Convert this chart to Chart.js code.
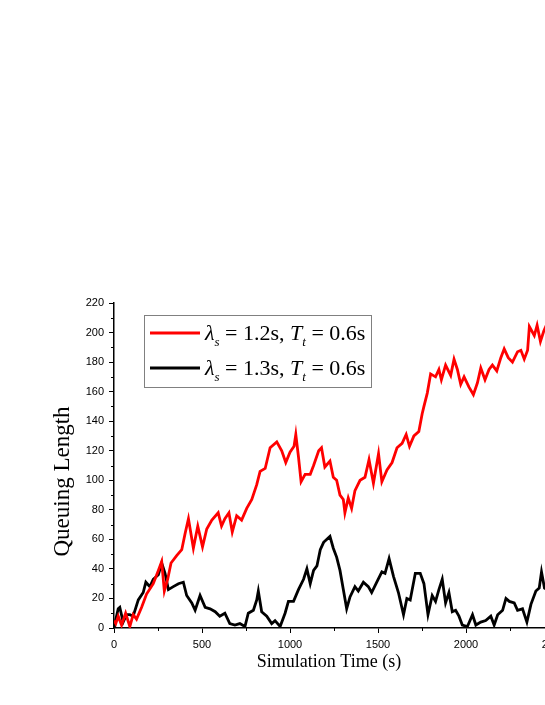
<!DOCTYPE html>
<html>
<head>
<meta charset="utf-8">
<script src="https://cdn.jsdelivr.net/npm/chart.js@4.4.1/dist/chart.umd.min.js"></script>
<style>
  html, body { margin: 0; padding: 0; background: #fff; overflow: hidden; width: 545px; height: 705px; }
  #wrap { position: absolute; left: 0; top: 0; width: 600px; height: 705px; }
</style>
</head>
<body>
<div id="wrap"><canvas id="c" width="600" height="705"></canvas></div>
<script>
// ---- data ----
const timeRed = [0,10,24,43,66,90,109,128,157,185,223,252,271,286,305,324,356,385,404,423,451,476,503,527,556,592,611,630,653,672,697,725,754,783,811,830,859,887,925,953,976,1000,1023,1033,1048,1063,1086,1115,1134,1163,1179,1198,1227,1246,1265,1284,1303,1312,1331,1350,1369,1398,1426,1449,1474,1503,1522,1551,1580,1608,1637,1660,1679,1704,1732,1751,1761,1780,1799,1827,1846,1860,1884,1913,1932,1951,1970,1989,2017,2042,2065,2084,2108,2131,2150,2175,2198,2217,2240,2264,2293,2312,2331,2350,2360,2388,2404,2423,2442,2460];
const queueRed = [5,3,8,2,10,1,9,6,14,23,30,39,45,25,33,44,49,53,64,74,54,69,55,67,73,78,69,74,78,65,76,73,81,87,97,106,108,122,126,120,112,119,123,131,116,99,104,104,110,120,122,109,113,102,100,90,87,78,88,81,93,100,102,114,98,118,99,107,112,122,125,131,123,130,133,145,150,159,172,170,175,168,178,171,182,175,165,170,163,158,166,176,168,175,178,174,183,189,183,180,187,188,182,188,204,198,205,194,201,206];
const timeBlack = [0,3,24,33,52,71,90,109,138,166,181,204,223,252,271,290,309,337,366,394,413,442,461,489,518,546,575,601,630,658,687,715,744,763,792,811,820,839,868,896,915,944,972,991,1020,1048,1077,1096,1115,1134,1153,1172,1191,1227,1246,1265,1284,1303,1322,1341,1369,1388,1417,1445,1464,1493,1522,1540,1563,1588,1616,1645,1664,1683,1712,1740,1761,1784,1808,1827,1846,1865,1884,1903,1922,1941,1960,1979,2008,2037,2056,2084,2112,2141,2160,2180,2208,2227,2246,2274,2293,2321,2346,2369,2397,2416,2429,2446,2460];
const queueBlack = [0,2,13,14,4,9,9,8,19,24,31,28,33,36,44,37,26,28,30,31,22,17,12,22,14,13,11,8,10,3,2,3,1,10,12,19,25,11,8,3,5,1,10,18,18,26,33,40,30,39,42,53,58,62,54,48,39,26,13,21,28,25,31,28,24,31,38,37,47,35,24,9,20,19,37,37,30,9,22,18,26,33,17,24,11,12,8,2,1,9,2,4,5,8,2,9,12,20,18,17,12,13,4,16,25,27,38,27,26];
const seriesNames = ["λs = 1.2s, Tt = 0.6s", "λs = 1.3s, Tt = 0.6s"];
const legendParts = [
  [["λ","i"],["s","sub"],[" = 1.2s, ","n"],["T","i"],["t","sub"],[" = 0.6s","n"]],
  [["λ","i"],["s","sub"],[" = 1.3s, ","n"],["T","i"],["t","sub"],[" = 0.6s","n"]]
];
const xTitle = "Simulation Time (s)";
const yTitle = "Queuing Length";
const xMax = 2500, yMax = 220;
const xMajor = 500, xMinor = 250, yMajor = 20, yMinor = 10;

const toPts = (xs, ys) => xs.map((x, i) => ({x: x, y: ys[i]}));
const SERIF = '"Liberation Serif", "Times New Roman", serif';

const minorTicks = {
  id: 'minorTicks',
  afterDraw(chart) {
    const ctx = chart.ctx, a = chart.chartArea;
    const xs = chart.scales.x, ys = chart.scales.y;
    ctx.save();
    ctx.strokeStyle = '#000';
    ctx.lineWidth = 1;
    for (let v = yMinor; v < yMax; v += yMajor) {
      const p = Math.round(ys.getPixelForValue(v)) + 0.5;
      ctx.beginPath(); ctx.moveTo(a.left - 3, p); ctx.lineTo(a.left, p); ctx.stroke();
    }
    for (let v = xMinor; v < xMax; v += xMajor) {
      const p = Math.round(xs.getPixelForValue(v)) + 0.5;
      ctx.beginPath(); ctx.moveTo(p, a.bottom); ctx.lineTo(p, a.bottom + 3); ctx.stroke();
    }
    // axis titles
    ctx.fillStyle = '#000';
    ctx.font = '18px ' + SERIF;
    ctx.textAlign = 'center';
    ctx.textBaseline = 'alphabetic';
    ctx.fillText(xTitle, (a.left + a.right) / 2 - 5, a.bottom + 39);
    ctx.save();
    ctx.translate(a.left - 51, (a.top + a.bottom) / 2 + 16);
    ctx.rotate(-Math.PI / 2);
    ctx.font = '23px ' + SERIF;
    ctx.textBaseline = 'middle';
    ctx.fillText(yTitle, 0, 0);
    ctx.restore();
    ctx.restore();
  }
};

const customLegend = {
  id: 'customLegend',
  afterDraw(chart) {
    const ctx = chart.ctx, a = chart.chartArea;
    const bx = a.left + 30, by = a.top + 12, bw = 227, bh = 72;
    ctx.save();
    ctx.fillStyle = '#fff';
    ctx.fillRect(bx, by, bw, bh);
    ctx.strokeStyle = '#808080';
    ctx.lineWidth = 1;
    ctx.strokeRect(bx + 0.5, by + 0.5, bw, bh);
    const fs = 22;
    chart.data.datasets.forEach((ds, i) => {
      const ly = by + 18 + i * 35;
      ctx.strokeStyle = ds.borderColor;
      ctx.lineWidth = 2.8;
      ctx.beginPath(); ctx.moveTo(bx + 6, ly); ctx.lineTo(bx + 56, ly); ctx.stroke();
      let x = bx + 61;
      const base = ly + 7;
      ctx.fillStyle = '#000';
      ctx.textBaseline = 'alphabetic';
      ctx.textAlign = 'left';
      legendParts[i].forEach(([t, kind]) => {
        if (kind === 'i') ctx.font = 'italic ' + fs + 'px ' + SERIF;
        else if (kind === 'sub') ctx.font = 'italic ' + Math.round(fs * 0.6) + 'px ' + SERIF;
        else ctx.font = fs + 'px ' + SERIF;
        const yy = kind === 'sub' ? base + 6 : base;
        ctx.fillText(t, x, yy);
        x += ctx.measureText(t).width;
      });
    });
    ctx.restore();
  }
};

new Chart(document.getElementById('c'), {
  type: 'line',
  data: {
    datasets: [
      { label: seriesNames[0], data: toPts(timeRed, queueRed), borderColor: '#ff0000', backgroundColor: '#ff0000', borderWidth: 2.8, pointRadius: 0, tension: 0 },
      { label: seriesNames[1], data: toPts(timeBlack, queueBlack), borderColor: '#000000', backgroundColor: '#000000', borderWidth: 2.8, pointRadius: 0, tension: 0 }
    ]
  },
  options: {
    responsive: false,
    animation: false,
    layout: { padding: { left: 0, top: 303, right: 46, bottom: 0 } },
    plugins: { legend: { display: false }, tooltip: { enabled: false } },
    scales: {
      x: {
        type: 'linear', min: 0, max: xMax,
        afterFit(s) { s.height = 77; },
        border: { display: true, color: '#000', width: 1.5 },
        grid: { drawOnChartArea: false, drawTicks: true, tickLength: 5, color: '#000', tickWidth: 1 },
        ticks: { stepSize: xMajor, color: '#000', padding: 5, maxRotation: 0, callback: v => String(v), font: { family: '"Liberation Sans", Arial, sans-serif', size: 11 } },
        title: { display: false }
      },
      y: {
        type: 'linear', min: 0, max: yMax,
        afterFit(s) { s.width = 114; },
        border: { display: true, color: '#000', width: 1.5 },
        grid: { drawOnChartArea: false, drawTicks: true, tickLength: 5, color: '#000', tickWidth: 1 },
        ticks: { stepSize: yMajor, color: '#000', padding: 5, callback: v => String(v), font: { family: '"Liberation Sans", Arial, sans-serif', size: 11 } },
        title: { display: false }
      }
    }
  },
  plugins: [minorTicks, customLegend]
});
</script>
</body>
</html>
